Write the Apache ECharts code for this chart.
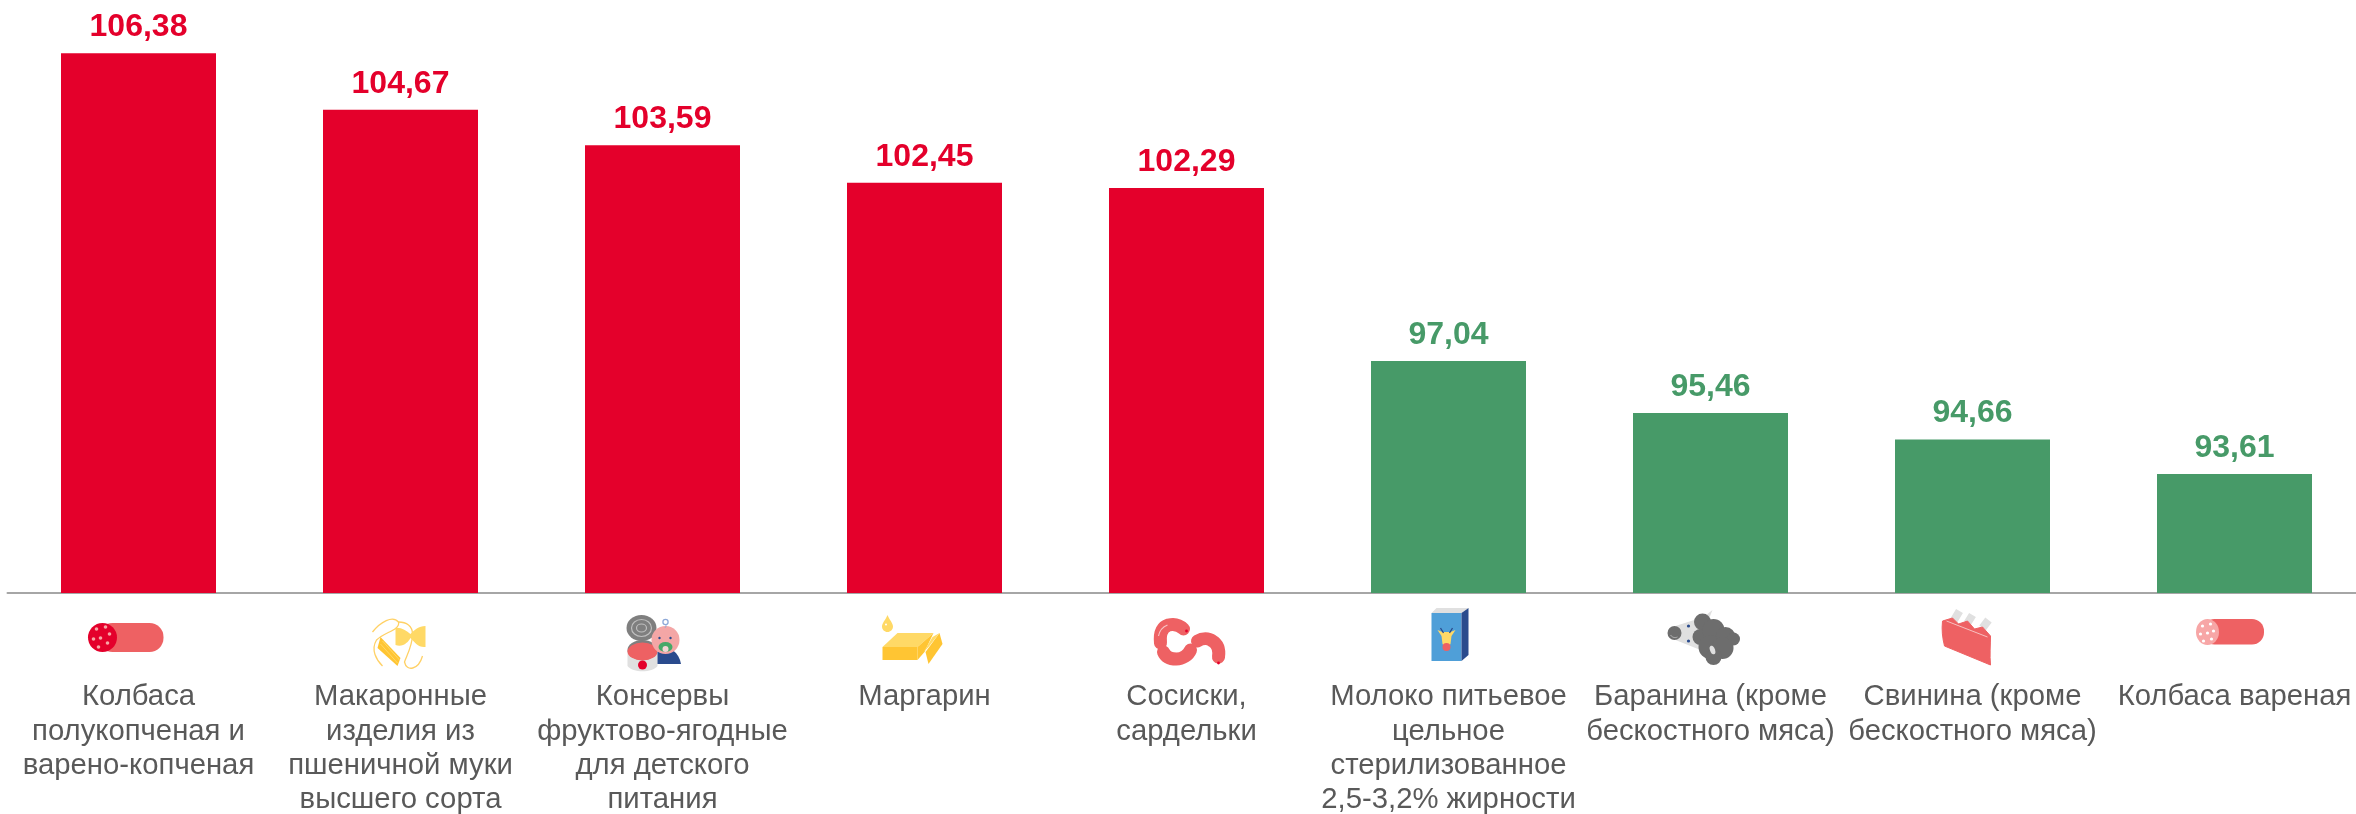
<!DOCTYPE html>
<html>
<head>
<meta charset="utf-8">
<style>
    html, body { margin: 0; padding: 0; background: #fff; }
    #chart { width: 2356px; height: 814px; }
</style>
</head>
<body>
<div id="chart"></div>
<script src="https://cdn.jsdelivr.net/npm/echarts@6/dist/echarts.min.js"></script>
<script>
const categories = [
    "Колбаса\nполукопченая и\nварено-копченая",
    "Макаронные\nизделия из\nпшеничной муки\nвысшего сорта",
    "Консервы\nфруктово-ягодные\nдля детского\nпитания",
    "Маргарин",
    "Сосиски,\nсардельки",
    "Молоко питьевое\nцельное\nстерилизованное\n2,5-3,2% жирности",
    "Баранина (кроме\nбескостного мяса)",
    "Свинина (кроме\nбескостного мяса)",
    "Колбаса вареная",
];
const values = [106.38, 104.67, 103.59, 102.45, 102.29, 97.04, 95.46, 94.66, 93.61];
const RED = "#e4002b";
const GREEN = "#479a68";
const PINK = "#ee6163";
const barColors = [RED, RED, RED, RED, RED, GREEN, GREEN, GREEN, GREEN];
const FONT = "'Liberation Sans', Arial, sans-serif";

// иконки под осью, каждая в своей рамке 120x80
const icons = [
    `<rect x="20" y="23" width="65" height="29" rx="14" fill="${PINK}"/><ellipse cx="24" cy="37.5" rx="14.5" ry="14.5" fill="${RED}"/>
     <g fill="#f7a6a6"><circle cx="18" cy="29" r="1.8"/><circle cx="27" cy="27" r="1.8"/><circle cx="31" cy="34" r="1.8"/><circle cx="15" cy="39" r="1.8"/><circle cx="22" cy="38" r="1.8"/><circle cx="29" cy="43" r="1.8"/><circle cx="20" cy="47" r="1.8"/></g>`,
    `<g fill="none" stroke="#ffd166" stroke-width="1.3"><path d="M32 32C40 22 52 15 58 22C60 30 44 32 36 40C30 50 36 60 42 66"/><path d="M58 22C66 22 72 26 72 34C72 46 66 56 64 62C66 72 78 70 82 56"/></g>
     <path d="M55 28C60 27 66 31 70 34C74 30 78 26 85 26L85 47C78 48 74 42 70 38C68 42 62 48 55 45Z" fill="#ffd966"/>
     <path d="M40 37L60 58L57 66L37 48Z" fill="#ffc533"/>
     <path d="M42 41L59 60M40 44L57 63" stroke="#ffd966" stroke-width="1"/>`,
    `<ellipse cx="39" cy="28" rx="15" ry="13" fill="#7f7f7f"/><ellipse cx="39" cy="28" rx="10" ry="8.5" fill="none" stroke="#bfbfbf" stroke-width="1.2"/><ellipse cx="39" cy="28" rx="5" ry="4" fill="none" stroke="#bfbfbf" stroke-width="1.2"/>
     <path d="M25 50H55V66C50 73 30 73 25 66Z" fill="#e0e0e0"/><ellipse cx="40" cy="50" rx="15" ry="10" fill="#7f7f7f"/><ellipse cx="40" cy="51.5" rx="15" ry="9" fill="${PINK}"/>
     <circle cx="40" cy="65" r="4.5" fill="${RED}"/>
     <path d="M55 64L55 52Q66 48 70 50Q77 55 78.5 64Z" fill="#2a4b8d"/><ellipse cx="63" cy="40" rx="14" ry="14" fill="#f4a6a6"/>
     <ellipse cx="63" cy="47" rx="7" ry="5" fill="#47a868"/><circle cx="63" cy="49" r="3" fill="#f4d6d6"/><circle cx="57" cy="38" r="1.2" fill="#2a4b8d"/><circle cx="68" cy="38" r="1.2" fill="#2a4b8d"/>
     <circle cx="63" cy="22" r="2.6" fill="none" stroke="#8ea9d8" stroke-width="1.3"/><path d="M63 25C65 26 62 27 63 28" fill="none" stroke="#8ea9d8" stroke-width="1"/>`,
    `<path d="M23 15C25 20 28.5 23 28.5 26.5C28.5 29.5 26 32 23 32C20 32 17.5 29.5 17.5 26.5C17.5 23 21 20 23 15Z" fill="#ffd966"/><circle cx="21.5" cy="24.5" r="1" fill="#fff"/>
     <path d="M18 47L33 33H69L53 47Z" fill="#ffd966"/><rect x="18" y="47" width="35" height="13" fill="#ffc533"/><path d="M53 47L69 33L60 52L53 60Z" fill="#ffc533"/>
     <path d="M75 33L78 44L64 64L61 52Z" fill="#ffc533"/><path d="M68 37L75 33L64 47L59 52Z" fill="#ffd966"/>`,
    `<g fill="none" stroke="${PINK}" stroke-width="13" stroke-linecap="round"><path d="M57 29C52 24 46 24 42 25C36 27 33 33 34 43"/><path d="M37 52C39 57 44 59 50 59C56 59 62 55 64 50"/><path d="M71 41C76 38 82 38 86 41C91 44 93 50 92 57"/></g>
     <path d="M32 36C33 31 36 27 41 25" fill="none" stroke="#f7c0c0" stroke-width="1.2"/>
     <circle cx="60" cy="31" r="1.4" fill="${RED}"/><circle cx="92" cy="63" r="1.4" fill="${RED}"/>`,
    `<path d="M43 13L48 8H80L73 13Z" fill="#e0e0e0"/><rect x="43" y="13" width="30" height="48" fill="#4f9fd8"/><path d="M73 13L80 8V55L73 61Z" fill="#2a4b8d"/>
     <path d="M49 30L54 32H62L67 30L63 36L62 44L58 48L54 44L53 36Z" fill="#ffd966"/><path d="M52 28L55 33M64 28L61 33" stroke="#2a4b8d" stroke-width="1.3"/><circle cx="58" cy="47" r="4" fill="${PINK}"/>`,
    `<path d="M25 26L53 17L62 10L58 20L50 50L25 40Z" fill="#e0e0e0"/><circle cx="24" cy="33" r="7" fill="#6d6d6d"/><path d="M20 35C22 38 25 38 27 37" fill="none" stroke="#bfbfbf" stroke-width="0.8"/>
     <g fill="#6d6d6d"><circle cx="52" cy="22" r="8.5"/><circle cx="50" cy="37" r="8"/><circle cx="63" cy="30" r="11"/><circle cx="75" cy="37" r="10"/><circle cx="83" cy="39" r="6.5"/><circle cx="60" cy="47" r="12"/><circle cx="72" cy="48" r="11"/><circle cx="63" cy="57" r="8"/></g>
     <ellipse cx="62" cy="50" rx="2.5" ry="4.5" fill="#e0e0e0" transform="rotate(-20 62 50)"/><circle cx="38" cy="26" r="1.6" fill="#2a4b8d"/><circle cx="38" cy="41" r="1.6" fill="#2a4b8d"/>`,
    `<g stroke="#e0e0e0" stroke-width="8"><path d="M47 11L41 21M60 15L55 23M76 20L70 28"/></g>
     <path d="M30 21L40 18L46 24L55 21L62 29L70 27L78 36C78 45 77 55 78 65L32 46C30 38 29 30 30 21Z" fill="${PINK}" stroke="${PINK}" stroke-linejoin="round"/><path d="M34 21L75 37" stroke="#f7c0c0" stroke-width="1"/>`,
    `<rect x="28" y="19" width="61.5" height="25.5" rx="12" fill="${PINK}"/><ellipse cx="33" cy="32" rx="11.5" ry="13" fill="#f7a6a6"/>
     <g fill="#fff"><circle cx="28" cy="26" r="1.6"/><circle cx="36" cy="24" r="1.6"/><circle cx="39" cy="31" r="1.6"/><circle cx="26" cy="34" r="1.6"/><circle cx="33" cy="33" r="1.6"/><circle cx="37" cy="39" r="1.6"/><circle cx="29" cy="41" r="1.6"/></g>`,
];

function iconUrl(body) {
    const svg = `<svg xmlns="http://www.w3.org/2000/svg" width="120" height="80" viewBox="0 0 120 80">${body}</svg>`;
    return "data:image/svg+xml;charset=utf-8," + encodeURIComponent(svg);
}

let rich = {
    t: { fontFamily: FONT, fontSize: 29.3, color: "#595959", lineHeight: 34.3, align: "center" },
};
icons.forEach((body, i) => {
    rich["ic" + i] = {
        width: 120,
        height: 80,
        lineHeight: 80,
        align: "center",
        backgroundColor: { image: iconUrl(body) },
    };
});

let chart = echarts.init(document.getElementById("chart"));
chart.setOption({
    backgroundColor: "#fff",
    animation: false,
    grid: { left: 7.5, top: 0, width: 2358, height: 593, outerBoundsMode: "none" },
    xAxis: {
        type: "category",
        data: categories,
        axisTick: { show: false },
        axisLine: { lineStyle: { color: "#a6a6a6", width: 2 } },
        axisLabel: {
            interval: 0,
            margin: 7,
            fontFamily: FONT,
            rich: rich,
            formatter: (name, i) => {
                let lines = name.split("\n").map((s) => "{t|" + s + "}");
                return ["{ic" + i + "|}"].concat(lines).join("\n");
            },
        },
    },
    yAxis: { type: "value", min: 90, max: 108, show: false },
    series: [
        {
            type: "bar",
            barWidth: 155,
            data: values.map((v, i) => ({
                value: v,
                itemStyle: { color: barColors[i] },
                label: { color: barColors[i] },
            })),
            label: {
                show: true,
                position: "top",
                distance: 10,
                fontFamily: FONT,
                fontWeight: "bold",
                fontSize: 32,
                formatter: (p) => p.value.toFixed(2).replace(".", ","),
            },
        },
    ],
});
</script>
</body>
</html>
